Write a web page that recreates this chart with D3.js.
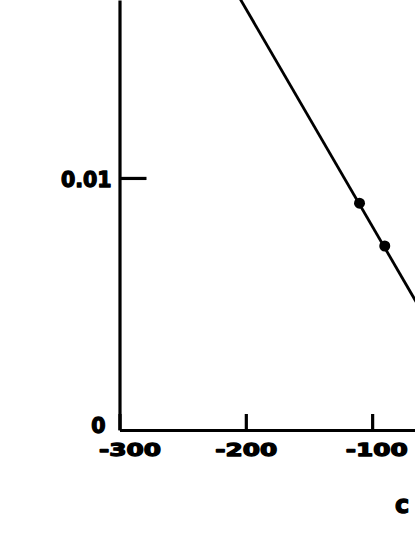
<!DOCTYPE html>
<html>
<head>
<meta charset="utf-8">
<script src="https://cdn.jsdelivr.net/npm/d3@7"></script>
<style>
  html, body { margin: 0; padding: 0; background: #fff; }
  svg { display: block; }
  text { font-family: "DejaVu Sans", "Liberation Sans", sans-serif; font-weight: bold; fill: #000; stroke: #000; stroke-width: 1.3px; stroke-linejoin: round; }
</style>
</head>
<body>
<svg id="chart" width="415" height="537"></svg>
<script>
// ---- data ----
const xTickValues = [-300, -200, -100];
const xTickLabels = ["-300", "-200", "-100"];
const yTickValues = [0, 0.01];
const yTickLabels = ["0", "0.01"];
const pointX = [-110, -90];
const pointY = [0.0090, 0.0073];
const lineX = [-210, -60];
const lineY = [0.01758, 0.00464];
const xAxisTitle = "c";

// ---- drawing ----
const svg = d3.select("#chart");

const x = d3.scaleLinear().domain([-300, -50]).range([119.5, 435.3]);
const y = d3.scaleLinear().domain([0, 0.01706]).range([430, 0]);

// x axis (ticks pointing up, into the plot)
const xAxis = d3.axisBottom(x)
  .tickValues(xTickValues)
  .tickSizeInner(-16)
  .tickSizeOuter(0)
  .tickPadding(26)
  .tickFormat((d, i) => xTickLabels[i]);

const gx = svg.append("g").attr("transform", `translate(0,${y(0)})`).call(xAxis);
gx.select(".domain").attr("stroke", "#000").attr("stroke-width", 3.2);
gx.selectAll(".tick line").attr("stroke", "#000").attr("stroke-width", 3.2);
gx.selectAll(".tick text")
  .attr("font-size", 18.5)
  .attr("dy", 0)
  .attr("dx", (d) => d === -300 ? 10 : (d === -100 ? 4 : 0))
  .attr("textLength", 62)
  .attr("lengthAdjust", "spacingAndGlyphs");

// y axis (ticks pointing right, into the plot)
const yAxis = d3.axisLeft(y)
  .tickValues(yTickValues)
  .tickSizeInner(-27)
  .tickSizeOuter(0)
  .tickPadding(8)
  .tickFormat((d, i) => yTickLabels[i]);

const gy = svg.append("g").attr("transform", `translate(${x(-300)},0)`).call(yAxis);
gy.select(".domain").attr("stroke", "#000").attr("stroke-width", 3.2);
gy.selectAll(".tick line").attr("stroke", "#000").attr("stroke-width", (d) => d === 0 ? 0 : 3.2);
gy.selectAll(".tick text")
  .attr("font-size", 20.5)
  .attr("dy", (d) => d === 0 ? "0.12em" : "0.42em")
  .attr("dx", (d) => d === 0 ? -6 : 0);

// regression line
const lineData = lineX.map((v, i) => [v, lineY[i]]);
svg.append("path")
  .datum(lineData)
  .attr("fill", "none")
  .attr("stroke", "#000")
  .attr("stroke-width", 2.8)
  .attr("d", d3.line().x(d => x(d[0])).y(d => y(d[1])));

// data points
svg.selectAll("circle.pt")
  .data(pointX.map((v, i) => [v, pointY[i]]))
  .join("circle")
  .attr("class", "pt")
  .attr("cx", d => x(d[0]))
  .attr("cy", d => y(d[1]))
  .attr("r", 5.5)
  .attr("fill", "#000");

// axis title (partially visible)
svg.append("text")
  .attr("x", 402)
  .attr("y", 513)
  .attr("text-anchor", "middle")
  .attr("font-size", 24)
  .text(xAxisTitle);
</script>
</body>
</html>
